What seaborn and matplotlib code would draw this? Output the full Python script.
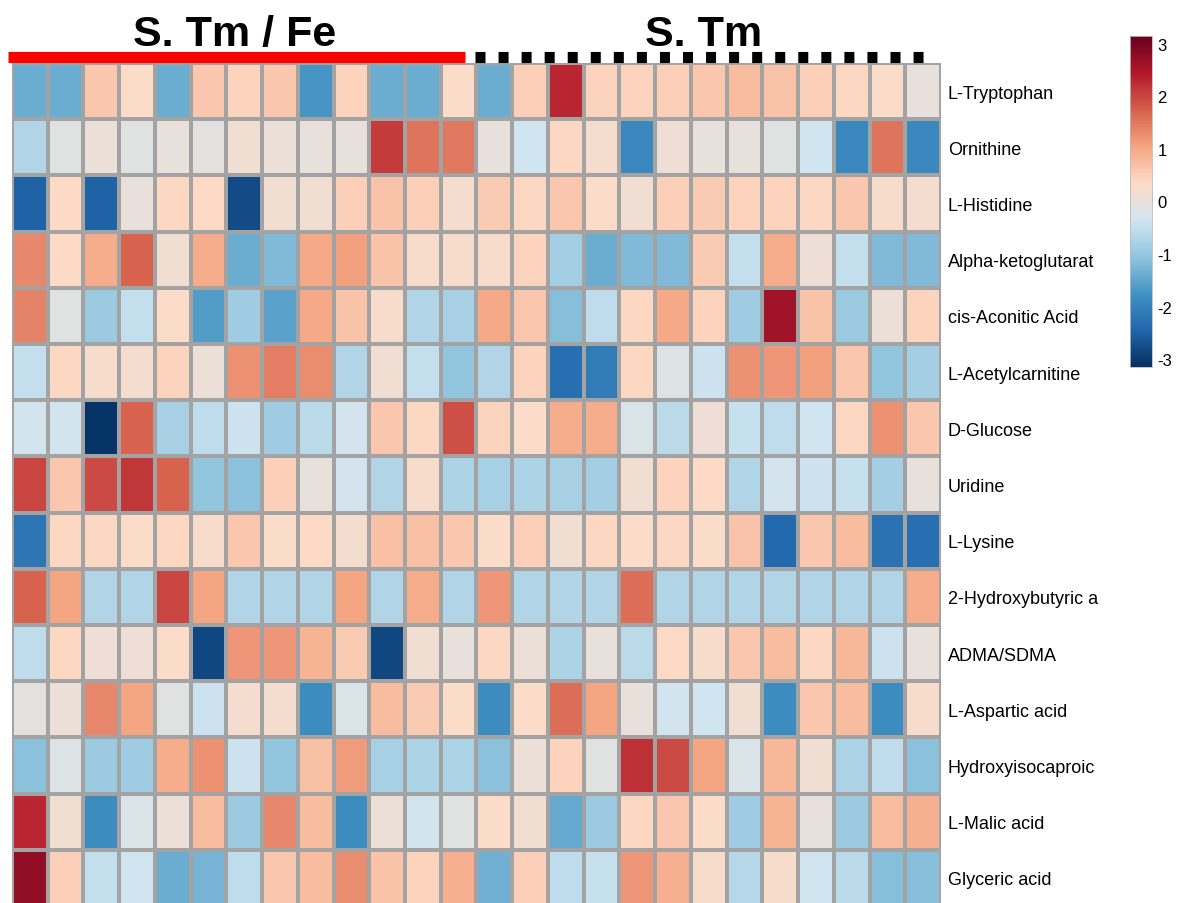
import numpy as np
import pandas as pd
import matplotlib
matplotlib.use("Agg")
import matplotlib.pyplot as plt
from matplotlib.colors import LinearSegmentedColormap
import seaborn as sns

# ---- data: z-scored metabolite levels, 13 S. Tm/Fe samples then 13 S. Tm samples ----
metabolites = [
    "L-Tryptophan", "Ornithine", "L-Histidine", "Alpha-ketoglutarat",
    "cis-Aconitic Acid", "L-Acetylcarnitine", "D-Glucose", "Uridine",
    "L-Lysine", "2-Hydroxybutyric a", "ADMA/SDMA", "L-Aspartic acid",
    "Hydroxyisocaproic", "L-Malic acid", "Glyceric acid",
]
group_names = ["S. Tm / Fe", "S. Tm"]
n_per_group = 13

tryptophan = [-1.4, -1.4, 0.6, 0.3, -1.4, 0.6, 0.45, 0.6, -1.7, 0.45, -1.4, -1.4, 0.3,
              -1.4, 0.5, 2.3, 0.45, 0.45, 0.5, 0.6, 0.75, 0.65, 0.5, 0.4, 0.3, 0.0]
ornithine = [-0.7, -0.1, 0.05, -0.1, 0.0, -0.05, 0.15, 0.05, 0.0, 0.0, 2.1, 1.55, 1.5,
             0.0, -0.35, 0.4, 0.2, -1.9, 0.1, 0.0, 0.0, -0.1, -0.35, -1.9, 1.55, -1.9]
histidine = [-2.5, 0.35, -2.5, 0.0, 0.4, 0.35, -2.8, 0.15, 0.15, 0.5, 0.65, 0.5, 0.2,
             0.55, 0.4, 0.6, 0.3, 0.15, 0.5, 0.55, 0.45, 0.45, 0.4, 0.6, 0.25, 0.2]
ketoglutarate = [1.35, 0.35, 0.95, 1.7, 0.15, 0.95, -1.4, -1.2, 1.0, 1.1, 0.65, 0.25, 0.25,
                 0.25, 0.45, -0.85, -1.4, -1.2, -1.2, 0.55, -0.5, 0.95, 0.1, -0.5, -1.2, -1.2]
aconitic = [1.4, -0.1, -0.95, -0.5, 0.3, -1.6, -0.9, -1.55, 1.0, 0.65, 0.25, -0.7, -0.8,
            1.0, 0.6, -1.15, -0.55, 0.4, 1.0, 0.45, -0.9, 2.6, 0.65, -0.95, 0.05, 0.45]
acetylcarnitine = [-0.5, 0.4, 0.25, 0.2, 0.45, 0.05, 1.25, 1.45, 1.3, -0.7, 0.15, -0.5, -1.05,
                   -0.7, 0.45, -2.3, -2.1, 0.4, -0.15, -0.4, 1.25, 1.2, 1.1, 0.6, -1.05, -0.85]
glucose = [-0.3, -0.3, -3.1, 1.7, -0.8, -0.55, -0.4, -0.9, -0.6, -0.3, 0.6, 0.4, 1.9,
           0.45, 0.3, 0.95, 0.95, -0.2, -0.6, 0.1, -0.45, -0.55, -0.35, 0.4, 1.25, 0.6]
uridine = [2.0, 0.6, 1.95, 2.15, 1.7, -1.05, -1.1, 0.5, 0.0, -0.3, -0.7, 0.25, -0.75,
           -0.8, -0.75, -0.8, -0.85, 0.15, 0.45, 0.35, -0.7, -0.3, -0.4, -0.45, -0.85, 0.0]
lysine = [-2.2, 0.4, 0.4, 0.3, 0.4, 0.25, 0.6, 0.3, 0.35, 0.2, 0.7, 0.7, 0.6,
          0.3, 0.5, 0.15, 0.4, 0.3, 0.4, 0.3, 0.65, -2.4, 0.6, 0.75, -2.25, -2.3]
hydroxybutyric = [1.7, 1.05, -0.7, -0.7, 2.0, 1.05, -0.7, -0.7, -0.7, 1.05, -0.7, 0.95, -0.7,
                  1.2, -0.7, -0.7, -0.7, 1.6, -0.7, -0.7, -0.7, -0.7, -0.7, -0.7, -0.7, 0.95]
adma_sdma = [-0.55, 0.4, 0.1, 0.1, 0.3, -2.85, 1.2, 1.2, 0.85, 0.55, -2.85, 0.15, 0.0,
             0.4, 0.05, -0.75, 0.0, -0.6, 0.35, 0.25, 0.6, 0.75, 0.4, 0.8, -0.4, 0.0]
aspartic = [-0.05, 0.05, 1.35, 1.05, -0.1, -0.4, 0.2, 0.2, -1.85, -0.2, 0.75, 0.55, 0.3,
            -1.85, 0.3, 1.6, 1.05, 0.0, -0.3, -0.35, 0.15, -1.85, 0.6, 0.75, -1.85, 0.25]
hydroxyisocaproic = [-1.1, -0.15, -0.95, -0.9, 0.95, 1.25, -0.4, -1.05, 0.7, 1.15, -0.8, -0.75, -0.75,
                     -1.1, 0.05, 0.45, -0.1, 2.2, 1.95, 1.05, -0.2, 0.8, 0.15, -0.75, -0.55, -1.1]
malic = [2.3, 0.15, -1.85, -0.2, 0.05, 0.75, -0.95, 1.35, 0.75, -1.85, 0.05, -0.3, -0.1,
         0.3, 0.15, -1.45, -0.95, 0.4, 0.6, 0.3, -0.9, 0.85, 0.0, -0.95, 0.75, 0.9]
glyceric = [2.75, 0.5, -0.5, -0.35, -1.4, -1.3, -0.55, 0.6, 0.75, 1.3, 0.65, 0.45, 0.9,
            -1.35, 0.5, -0.55, -0.45, 1.2, 0.9, 0.25, -0.65, 0.25, -0.35, -0.6, -1.15, -1.15]

rows = [tryptophan, ornithine, histidine, ketoglutarate, aconitic, acetylcarnitine,
        glucose, uridine, lysine, hydroxybutyric, adma_sdma, aspartic,
        hydroxyisocaproic, malic, glyceric]
samples = [f"Fe{i + 1}" for i in range(n_per_group)] + [f"Tm{i + 1}" for i in range(n_per_group)]
df = pd.DataFrame(rows, index=metabolites, columns=samples)

# ---- styling ----
sns.set_style("white")
plt.rcParams["font.family"] = ["Liberation Sans", "DejaVu Sans"]
plt.rcParams["lines.scale_dashes"] = False
plt.rcParams["axes.unicode_minus"] = False

rdbu10 = ["#053061", "#2166AC", "#4393C3", "#92C5DE", "#D1E5F0",
          "#FDDBC7", "#F4A582", "#D6604D", "#B2182B", "#67001F"]
cmap = LinearSegmentedColormap.from_list("rdbu10", rdbu10, N=256)

W, H = 1181, 904
fig = plt.figure(figsize=(W / 100, H / 100), dpi=100)

# heatmap area (pixels -> figure fractions)
hm_left, hm_right, hm_top, row_h = 12, 941, 64, 56.2
hm_bottom = hm_top + row_h * len(metabolites)
ax = fig.add_axes([hm_left / W, (H - hm_bottom) / H,
                   (hm_right - hm_left) / W, (hm_bottom - hm_top) / H])
cax = fig.add_axes([1130 / W, (H - 368) / H, 22 / W, (368 - 37) / H])

sns.heatmap(df, ax=ax, cbar_ax=cax, cmap=cmap, vmin=-3.15, vmax=3.15,
            linewidths=1.5, linecolor="#a3a3a3", xticklabels=False,
            yticklabels=True)

ax.yaxis.tick_right()
ax.tick_params(axis="y", length=0, pad=5, labelsize=13, rotation=0, labelcolor="black")

# colorbar
cbar = ax.collections[0].colorbar
cbar.set_ticks([-3, -2, -1, 0, 1, 2, 3])
cbar.ax.tick_params(length=0, labelsize=12, pad=4, labelcolor="black")
cbar.outline.set_linewidth(0.6)
cbar.outline.set_edgecolor("#bbbbbb")

# group annotation bars above the columns
bar_y = -0.105
ax.plot([-0.11, 12.68], [bar_y, bar_y], color="#ff0000", lw=8, solid_capstyle="butt",
        clip_on=False)
ax.plot([12.96, 25.83], [bar_y, bar_y], color="black", lw=8,
        linestyle=(0, (7.2, 9.4)), dash_capstyle="butt", clip_on=False)

fig.text(235 / W, (H - 46) / H, group_names[0], ha="center", va="baseline",
         fontsize=31, fontweight="bold", color="black")
fig.text(704 / W, (H - 46) / H, group_names[1], ha="center", va="baseline",
         fontsize=31, fontweight="bold", color="black")

fig.savefig("out.png", dpi=100, facecolor="white")
